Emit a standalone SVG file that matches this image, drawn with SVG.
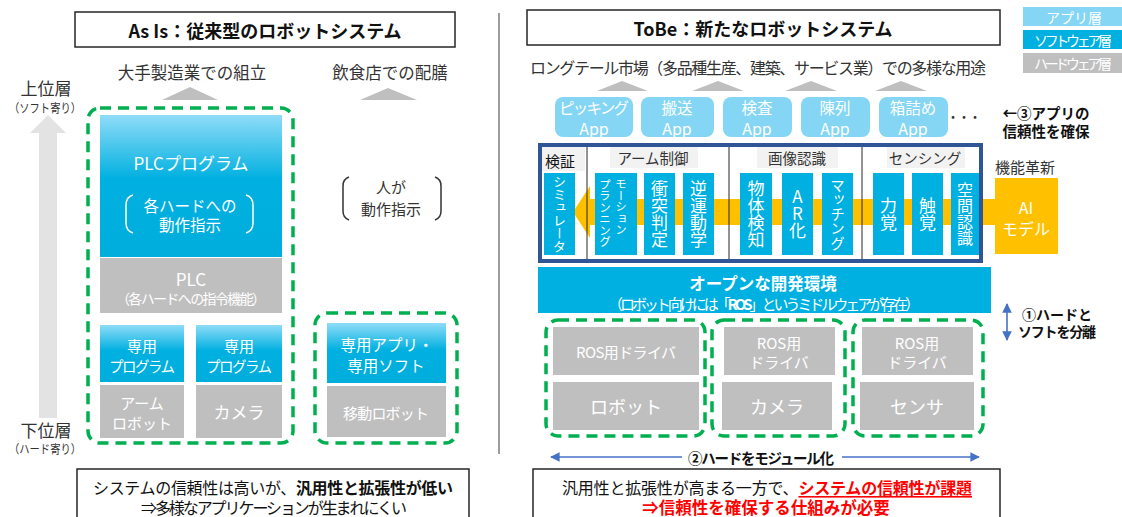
<svg xmlns="http://www.w3.org/2000/svg" width="1122" height="517" viewBox="0 0 1122 517">
<style>
text{font-family:"Noto Sans CJK JP","Noto Sans",sans-serif;dominant-baseline:central;text-anchor:middle;fill:#333}
.w{fill:#fff}
.k{fill:#111}
.b{font-weight:bold}
.sw{fill:#00b0e0}
.hw{fill:#bfbfbf}
.app{fill:#84d6f4}
.dash{fill:none;stroke:#00b050;stroke-width:3.5;stroke-dasharray:11 7}
.frame{fill:#fff;stroke:#262626;stroke-width:1.5}
.tri{fill:#bfbfbf}
.lbl{fill:#f2f2f2}
.v{writing-mode:vertical-rl;fill:#fff}
.br{fill:none;stroke-width:1.5}
.arr{stroke:#4472c4;stroke-width:1.6;fill:none}
</style>
<defs>
<linearGradient id="gBlue" x1="0" y1="0" x2="0" y2="1">
<stop offset="0" stop-color="#8fdcf8"/>
<stop offset="0.45" stop-color="#00b0e0"/>
<stop offset="1" stop-color="#00aedc"/>
</linearGradient>
<marker id="ah" viewBox="0 0 10 10" refX="9" refY="5" markerWidth="6" markerHeight="6" orient="auto-start-reverse">
<path d="M0,0 L10,5 L0,10 z" fill="#4472c4"/>
</marker>
</defs>
<rect width="1122" height="517" fill="#fff"/>

<!-- divider -->
<line x1="499" y1="13" x2="499" y2="454" stroke="#595959" stroke-width="1.2"/>

<!-- ===== AS IS ===== -->
<g id="asis-title">
<rect class="frame" x="75" y="12" width="380" height="35"/>
<text class="k b" x="265" y="30" font-size="18">As Is：従来型のロボットシステム</text>
</g>

<g id="layer-axis">
<polygon points="39,418 39,133 30,133 48,115 66,133 57,133 57,418" fill="#e3e3e3"/>
<text x="46" y="87" font-size="17"><tspan x="46" y="87">上位層</tspan><tspan x="45" y="107" font-size="12" textLength="72" lengthAdjust="spacingAndGlyphs">（ソフト寄り）</tspan></text>
<text x="46" y="429" font-size="17"><tspan x="46" y="429">下位層</tspan><tspan x="45" y="448" font-size="12" textLength="72" lengthAdjust="spacingAndGlyphs">（ハード寄り）</tspan></text>
</g>

<g id="asis-use-factory">
<text x="192" y="72" font-size="16.5">大手製造業での組立</text>
<polygon class="tri" points="162,100 190,87 218,100"/>
</g>
<g id="asis-use-restaurant">
<text x="390" y="72" font-size="16.5">飲食店での配膳</text>
<polygon class="tri" points="360,100 388,88 417,100"/>
</g>

<g id="asis-factory-system">
<rect class="dash" x="88" y="108" width="205" height="335" rx="12"/>
<rect x="100" y="115" width="182" height="142" fill="url(#gBlue)"/>
<text class="w" x="191" y="162" font-size="17">PLCプログラム</text>
<path class="br" stroke="#fff" d="M133,195 Q126,197 126,205 L126,223 Q126,231 133,233"/>
<path class="br" stroke="#fff" d="M246,195 Q253,197 253,205 L253,223 Q253,231 246,233"/>
<text class="w" x="190" y="205" font-size="15.5"><tspan x="190" y="205">各ハードへの</tspan><tspan x="190" y="224">動作指示</tspan></text>
<rect class="hw" x="100" y="258" width="182" height="55"/>
<text class="w" x="191" y="278" font-size="17"><tspan x="191" y="278">PLC</tspan><tspan x="191" y="298" font-size="14" textLength="150">（各ハードへの指令機能）</tspan></text>
</g>

<g id="asis-arm">
<rect x="100" y="325" width="84" height="57" fill="url(#gBlue)"/>
<text class="w" x="142" y="345" font-size="15"><tspan x="142" y="345">専用</tspan><tspan x="142" y="365" font-size="14.5" textLength="66">プログラム</tspan></text>
<rect class="hw" x="100" y="385" width="84" height="53"/>
<text class="w" x="142" y="402" font-size="15"><tspan x="142" y="402">アーム</tspan><tspan x="142" y="422">ロボット</tspan></text>
</g>

<g id="asis-camera">
<rect x="196" y="325" width="86" height="57" fill="url(#gBlue)"/>
<text class="w" x="239" y="345" font-size="15"><tspan x="239" y="345">専用</tspan><tspan x="239" y="365" font-size="14.5" textLength="66">プログラム</tspan></text>
<rect class="hw" x="196" y="385" width="86" height="53"/>
<text class="w" x="239" y="411" font-size="17">カメラ</text>
</g>

<g id="asis-human">
<path class="br" stroke="#333" d="M349,177 Q343,179 343,186 L343,211 Q343,218 349,220"/>
<path class="br" stroke="#333" d="M435,177 Q441,179 441,186 L441,211 Q441,218 435,220"/>
<text x="391" y="186" font-size="15"><tspan x="391" y="186">人が</tspan><tspan x="391" y="208">動作指示</tspan></text>
</g>

<g id="asis-mobile">
<rect class="dash" x="315" y="313" width="142" height="130" rx="12"/>
<rect x="327" y="323" width="119" height="60" fill="url(#gBlue)"/>
<text class="w" x="387" y="344" font-size="15.5"><tspan x="387" y="344">専用アプリ・</tspan><tspan x="386" y="365">専用ソフト</tspan></text>
<rect class="hw" x="327" y="386" width="119" height="51"/>
<text class="w" x="386" y="412" font-size="15" textLength="86">移動ロボット</text>
</g>

<g id="asis-summary">
<rect class="frame" x="77" y="469" width="392" height="60"/>
<text class="k" x="273" y="487" font-size="16"><tspan x="273" y="487" textLength="360">システムの信頼性は高いが、<tspan class="b">汎用性と拡張性が低い</tspan></tspan><tspan x="274" y="507" textLength="266">⇒多様なアプリケーションが生まれにくい</tspan></text>
</g>

<!-- ===== TO BE ===== -->
<g id="tobe-title">
<rect class="frame" x="527" y="10" width="473" height="35"/>
<text class="k b" x="763" y="28" font-size="18">ToBe：新たなロボットシステム</text>
</g>

<g id="legend">
<rect class="app" x="1023" y="7" width="99" height="19"/>
<text class="w" x="1074" y="16.5" font-size="14">アプリ層</text>
<rect class="sw" x="1023" y="30" width="99" height="19"/>
<text class="w" x="1073" y="39.5" font-size="14" textLength="78">ソフトウェア層</text>
<rect class="hw" x="1023" y="53" width="99" height="20"/>
<text class="w" x="1073" y="63" font-size="14" textLength="78">ハードウェア層</text>
</g>

<g id="tobe-uses">
<text x="758" y="67" font-size="16" textLength="456">ロングテール市場（多品種生産、建築、サービス業）での多様な用途</text>
<polygon class="tri" points="597,91 622,81 648,91"/>
<polygon class="tri" points="692,91 718,81 744,91"/>
<polygon class="tri" points="785,91 811,81 837,91"/>
<polygon class="tri" points="875,91 901,81 927,91"/>
</g>

<g id="app-picking">
<rect class="app" x="555" y="97" width="78" height="40" rx="8"/>
<text class="w" x="594" y="107" font-size="15.5"><tspan x="594" y="107" textLength="70">ピッキング</tspan><tspan x="594" y="127.5" font-size="16">App</tspan></text>
</g>
<g id="app-transport">
<rect class="app" x="641" y="97" width="73" height="40" rx="8"/>
<text class="w" x="677" y="107" font-size="15.5"><tspan x="677" y="107">搬送</tspan><tspan x="677" y="127.5" font-size="16">App</tspan></text>
</g>
<g id="app-inspection">
<rect class="app" x="723" y="97" width="69" height="40" rx="8"/>
<text class="w" x="757" y="107" font-size="15.5"><tspan x="757" y="107">検査</tspan><tspan x="757" y="127.5" font-size="16">App</tspan></text>
</g>
<g id="app-display">
<rect class="app" x="801" y="97" width="69" height="40" rx="8"/>
<text class="w" x="835" y="107" font-size="15.5"><tspan x="835" y="107">陳列</tspan><tspan x="835" y="127.5" font-size="16">App</tspan></text>
</g>
<g id="app-boxing">
<rect class="app" x="879" y="97" width="69" height="40" rx="8"/>
<text class="w" x="913" y="107" font-size="15.5"><tspan x="913" y="107">箱詰め</tspan><tspan x="913" y="127.5" font-size="16">App</tspan></text>
</g>
<text x="963" y="116" font-size="13" letter-spacing="-2">・・・</text>

<g id="note-app-reliability">
<text class="k b" x="1046" y="112" font-size="14.5"><tspan x="1046" y="112">←③アプリの</tspan><tspan x="1046" y="130">信頼性を確保</tspan></text>
</g>

<g id="tobe-software">
<rect x="540" y="145" width="441" height="116" fill="#fff"/>
<rect class="lbl" x="542" y="147" width="43" height="24"/>
<rect class="lbl" x="610" y="147" width="88" height="21"/>
<rect class="lbl" x="757" y="147" width="81" height="21"/>
<rect class="lbl" x="887" y="147" width="78" height="21"/>
<text class="k" x="560" y="160" font-size="15">検証</text>
<text x="653" y="157.5" font-size="14.5">アーム制御</text>
<text x="797" y="157.5" font-size="14.5">画像認識</text>
<text x="925" y="157.5" font-size="14.5">センシング</text>
<!-- AI flow band -->
<rect x="588" y="199" width="410" height="26" fill="#ffc000"/>
<polygon points="573,212 590,186 590,238" fill="#ffc000"/>
<g id="mod-simulator"><rect class="sw" x="544" y="173" width="31" height="82"/><text class="v" x="559.5" y="214" font-size="13">シミュレータ</text></g>
<g id="mod-motion"><rect class="sw" x="595" y="173" width="42" height="82"/><text class="v" x="621" y="178" font-size="11.5" style="text-anchor:start"><tspan x="621" y="178">モーション</tspan><tspan x="605" y="178">プランニング</tspan></text></g>
<g id="mod-collision"><rect class="sw" x="644" y="173" width="31" height="82"/><text class="v" x="659.5" y="214" font-size="17">衝突判定</text></g>
<g id="mod-ik"><rect class="sw" x="683" y="173" width="31" height="82"/><text class="v" x="698.5" y="214" font-size="17">逆運動学</text></g>
<g id="mod-detect"><rect class="sw" x="740" y="173" width="32" height="82"/><text class="v" x="756" y="214" font-size="17">物体検知</text></g>
<g id="mod-ar"><rect class="sw" x="782" y="173" width="31" height="82"/><text class="v" x="797.5" y="214" font-size="17" style="text-orientation:upright">AR化</text></g>
<g id="mod-matching"><rect class="sw" x="822" y="173" width="31" height="82"/><text class="v" x="837.5" y="214" font-size="14.5">マッチング</text></g>
<g id="mod-force"><rect class="sw" x="873" y="173" width="31" height="82"/><text class="v" x="888.5" y="214" font-size="17">力覚</text></g>
<g id="mod-touch"><rect class="sw" x="912" y="173" width="31" height="82"/><text class="v" x="927.5" y="214" font-size="17">触覚</text></g>
<g id="mod-space"><rect class="sw" x="951" y="173" width="28" height="82"/><text class="v" x="965" y="214" font-size="16">空間認識</text></g>
<line x1="587" y1="145" x2="587" y2="261" stroke="#262626" stroke-width="1"/>
<line x1="729" y1="145" x2="729" y2="261" stroke="#262626" stroke-width="1"/>
<line x1="862" y1="145" x2="862" y2="261" stroke="#262626" stroke-width="1"/>
<rect x="540" y="145" width="441" height="116" fill="none" stroke="#2f5597" stroke-width="4"/>
</g>

<g id="ai-model">
<text x="1025" y="166" font-size="15">機能革新</text>
<rect x="995" y="178" width="63" height="76" fill="#ffc000"/>
<text class="w" x="1026" y="207" font-size="16"><tspan x="1026" y="207">AI</tspan><tspan x="1026" y="228">モデル</tspan></text>
</g>

<g id="open-env">
<rect class="sw" x="538" y="267" width="453" height="46"/>
<text class="w" x="763" y="283" font-size="16.5"><tspan class="b" x="763" y="283">オープンな開発環境</tspan><tspan x="764" y="303" font-size="15" textLength="312">（ロボット向けには「<tspan class="b">ROS</tspan>」というミドルウェアが存在）</tspan></text>
</g>

<g id="hw-robot">
<rect class="dash" x="546" y="320" width="159" height="116" rx="12"/>
<rect class="hw" x="553" y="327" width="146" height="48"/>
<text class="w" x="626" y="351" font-size="15" textLength="100">ROS用ドライバ</text>
<rect class="hw" x="553" y="382" width="146" height="48"/>
<text class="w" x="626" y="406" font-size="18">ロボット</text>
</g>
<g id="hw-camera">
<rect class="dash" x="712" y="320" width="133" height="116" rx="12"/>
<rect class="hw" x="724" y="327" width="111" height="48"/>
<text class="w" x="779" y="342" font-size="15"><tspan x="779" y="342">ROS用</tspan><tspan x="779" y="361">ドライバ</tspan></text>
<rect class="hw" x="722" y="382" width="110" height="48"/>
<text class="w" x="777" y="406" font-size="18">カメラ</text>
</g>
<g id="hw-sensor">
<rect class="dash" x="853" y="320" width="130" height="116" rx="12"/>
<rect class="hw" x="862" y="327" width="111" height="48"/>
<text class="w" x="917" y="342" font-size="15"><tspan x="917" y="342">ROS用</tspan><tspan x="917" y="361">ドライバ</tspan></text>
<rect class="hw" x="860" y="382" width="114" height="48"/>
<text class="w" x="917" y="406" font-size="18">センサ</text>
</g>

<g id="connectors">
<line class="arr" x1="682" y1="457" x2="551" y2="457" marker-end="url(#ah)"/>
<line class="arr" x1="842" y1="457" x2="979" y2="457" marker-end="url(#ah)"/>
<line class="arr" x1="1007" y1="304" x2="1007" y2="340" marker-start="url(#ah)" marker-end="url(#ah)"/>
</g>

<g id="note-modular">
<text class="k b" x="761" y="457" font-size="14.5" textLength="146">②ハードをモジュール化</text>
</g>
<g id="note-separate">
<text class="k b" x="1057" y="314" font-size="14"><tspan x="1057" y="314">①ハードと</tspan><tspan x="1057" y="331" textLength="78">ソフトを分離</tspan></text>
</g>

<g id="tobe-summary">
<rect class="frame" x="533" y="469" width="467" height="60"/>
<text class="k" x="767" y="487" font-size="16"><tspan x="767" y="487" textLength="410">汎用性と拡張性が高まる一方で、<tspan class="b" style="fill:#ff0000;text-decoration:underline">システムの信頼性が課題</tspan></tspan><tspan class="b" x="766" y="507" font-size="16.5" style="fill:#ff0000">⇒信頼性を確保する仕組みが必要</tspan></text>
</g>
</svg>
